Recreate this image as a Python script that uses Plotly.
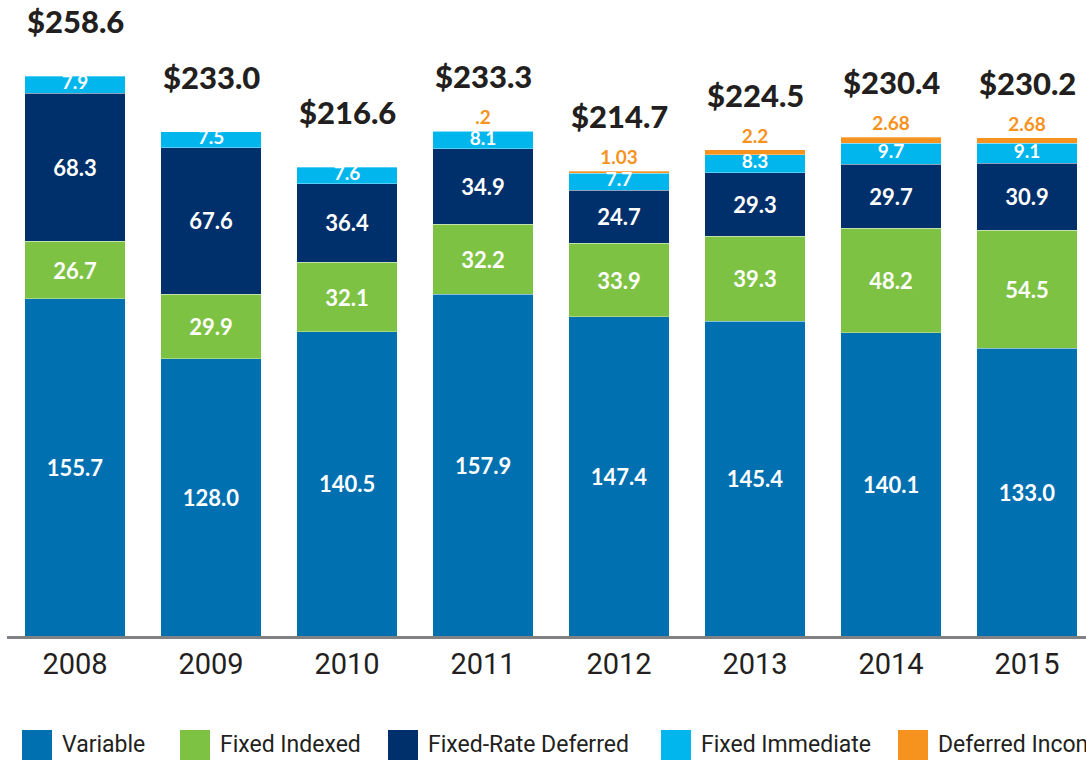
import numpy as np
import plotly.graph_objects as go

years = ["2008", "2009", "2010", "2011", "2012", "2013", "2014", "2015"]
variable = [155.7, 128.0, 140.5, 157.9, 147.4, 145.4, 140.1, 133.0]
fixed_indexed = [26.7, 29.9, 32.1, 32.2, 33.9, 39.3, 48.2, 54.5]
fixed_rate_deferred = [68.3, 67.6, 36.4, 34.9, 24.7, 29.3, 29.7, 30.9]
fixed_immediate = [7.9, 7.5, 7.6, 8.1, 7.7, 8.3, 9.7, 9.1]
deferred_income = [None, None, None, 0.2, 1.03, 2.2, 2.68, 2.68]
deferred_labels = ["", "", "", ".2", "1.03", "2.2", "2.68", "2.68"]
totals = [258.6, 233.0, 216.6, 233.3, 214.7, 224.5, 230.4, 230.2]

series_names = ["Variable", "Fixed Indexed", "Fixed-Rate Deferred", "Fixed Immediate", "Deferred Income"]
colors = ["#0070b1", "#7dc243", "#00306b", "#00b6ed", "#f6921e"]

W, H = 1086, 762
BASE = 636                # baseline, px from top
ML, MR, MT = 7, 0, 0
MB = H - BASE
PW, PH = W - ML - MR, BASE - MT
SCALE = 2.165             # px per unit
STEP = 136                # px per category
C0 = 75                   # centre of first category, px

COND = "Roboto, Lato, sans-serif"
BOLD = "Lato, Open Sans, sans-serif"
DARK = "#231f20"

fig = go.Figure()
big_series = [variable, fixed_indexed, fixed_rate_deferred]
edge = dict(width=0.6, color="rgba(255,255,255,0.55)")
for vals, name, col in zip(big_series, series_names[:3], colors[:3]):
    fig.add_trace(go.Bar(
        x=years, y=vals, name=name, marker_color=col, marker_line=edge,
        text=[f"{v:.1f}" for v in vals], textposition="inside",
        insidetextanchor="middle",
        textfont=dict(family=BOLD, size=22, color="white", weight="bold"),
        showlegend=False, hoverinfo="skip",
    ))

fig.add_trace(go.Bar(
    x=years, y=fixed_immediate, name=series_names[3], marker_color=colors[3],
    marker_line=edge, textposition="none", showlegend=False, hoverinfo="skip",
))
fig.add_trace(go.Bar(
    x=years, y=deferred_income, name=series_names[4], marker_color=colors[4],
    marker_line=edge,
    text=deferred_labels, textposition="outside", cliponaxis=False,
    textfont=dict(family=BOLD, size=19, color=colors[4], weight="bold"),
    showlegend=False, hoverinfo="skip",
))

# Fixed Immediate labels (segment too thin for plotly's inside text fitting)
base_fi = np.array(variable) + np.array(fixed_indexed) + np.array(fixed_rate_deferred)
fig.add_trace(go.Scatter(
    x=years, y=base_fi + np.array(fixed_immediate) / 2, mode="text",
    text=[f"{v:.1f}" for v in fixed_immediate], textposition="middle center",
    textfont=dict(family=BOLD, size=19, color="white", weight="bold"),
    showlegend=False, hoverinfo="skip", cliponaxis=False,
))

# Totals
for i, t in enumerate(totals):
    fig.add_annotation(x=i, y=t, xref="x", yref="y", text=f"${t:.1f}",
                       showarrow=False, yanchor="middle", yshift=55,
                       font=dict(family=BOLD, size=31, color=DARK, weight=900))

# Custom legend (pixel positions)
def px_x(p):
    return (p - ML) / PW

def px_y(p):
    return (MT + PH - p) / PH

legend_x = [22, 180, 388, 661, 898]
for name, col, lx in zip(series_names, colors, legend_x):
    fig.add_shape(type="rect", xref="paper", yref="paper",
                  x0=px_x(lx), x1=px_x(lx + 30), y0=px_y(760), y1=px_y(730),
                  fillcolor=col, line_width=0)
    fig.add_annotation(xref="paper", yref="paper", x=px_x(lx + 38), y=px_y(745),
                       text=name, showarrow=False, xanchor="left", yanchor="middle",
                       font=dict(family=COND, size=23, color=DARK))

x_lo = (ML - C0) / STEP
x_hi = (ML + PW - C0) / STEP
fig.update_layout(
    width=W, height=H, barmode="stack", bargap=0.26,
    margin=dict(l=ML, r=MR, t=MT, b=MB),
    plot_bgcolor="white", paper_bgcolor="white",
    xaxis=dict(type="category", range=[x_lo, x_hi], showline=True,
               linecolor="#808285", linewidth=3, ticks="", showgrid=False,
               tickfont=dict(family=COND, size=29, color=DARK), ticklabelstandoff=0),
    yaxis=dict(range=[0, PH / SCALE], visible=False, showgrid=False),
)

# remove the browser's default 8px page margin so the figure fills the window
fig.write_html("out.html", config={"displayModeBar": False},
               post_script="document.body.style.margin='0';")
